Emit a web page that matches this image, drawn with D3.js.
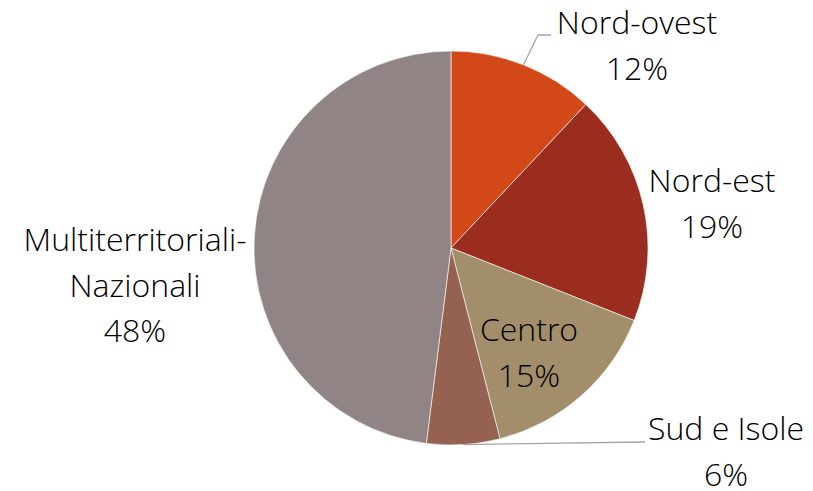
<!DOCTYPE html>
<html>
<head>
<meta charset="utf-8">
<script src="https://cdn.jsdelivr.net/npm/d3@7"></script>
<style>
  body { margin: 0; background: #fff; }
  text { font-family: "Open Sans", sans-serif; font-weight: 300; fill: #000; }
</style>
</head>
<body>
<svg width="813" height="491"></svg>
<script>
// chart data
var categories = ["Nord-ovest", "Nord-est", "Centro", "Sud e Isole", "Multiterritoriali-\nNazionali"];
var values = [12, 19, 15, 6, 48];
var colors = ["#D34817", "#9B2D1F", "#A28E6A", "#956251", "#918485"];

// label layout: [center x, first baseline y]
var labelPos = [[637, 34], [712, 192], [529, 341], [726, 440], [135, 251]];

var svg = d3.select("svg");
var cx = 451, cy = 248, r = 197;
var lineH = 45.5;

var pie = d3.pie().sort(null).value(function (d) { return d; });
var arcs = pie(values);
var arc = d3.arc().innerRadius(0).outerRadius(r);

var g = svg.append("g").attr("transform", "translate(" + cx + "," + cy + ")");

g.selectAll("path")
    .data(arcs)
    .enter().append("path")
    .attr("d", arc)
    .attr("fill", function (d, i) { return colors[i]; })
    .attr("stroke", "#fff")
    .attr("stroke-width", 0.6);

// point on the rim at slice middle
function rim(d) {
    var a = (d.startAngle + d.endAngle) / 2;
    return [cx + r * Math.sin(a), cy - r * Math.cos(a)];
}

// leader lines
var p0 = rim(arcs[0]);
svg.append("polyline")
    .attr("points", [p0, [538, 35], [551, 35]].map(function (p) { return p.join(","); }).join(" "))
    .attr("fill", "none").attr("stroke", "#A6A6A6").attr("stroke-width", 1.3);
var p3 = rim(arcs[3]);
svg.append("polyline")
    .attr("points", [p3, [645, 442]].map(function (p) { return p.join(","); }).join(" "))
    .attr("fill", "none").attr("stroke", "#A6A6A6").attr("stroke-width", 1.3);

// labels
arcs.forEach(function (d, i) {
    var lines = categories[i].split("\n").concat([values[i] + "%"]);
    var t = svg.append("text")
        .attr("text-anchor", "middle")
        .attr("font-size", 32);
    lines.forEach(function (s, k) {
        t.append("tspan")
            .attr("x", labelPos[i][0])
            .attr("y", labelPos[i][1] + k * lineH)
            .text(s);
    });
});
</script>
</body>
</html>
